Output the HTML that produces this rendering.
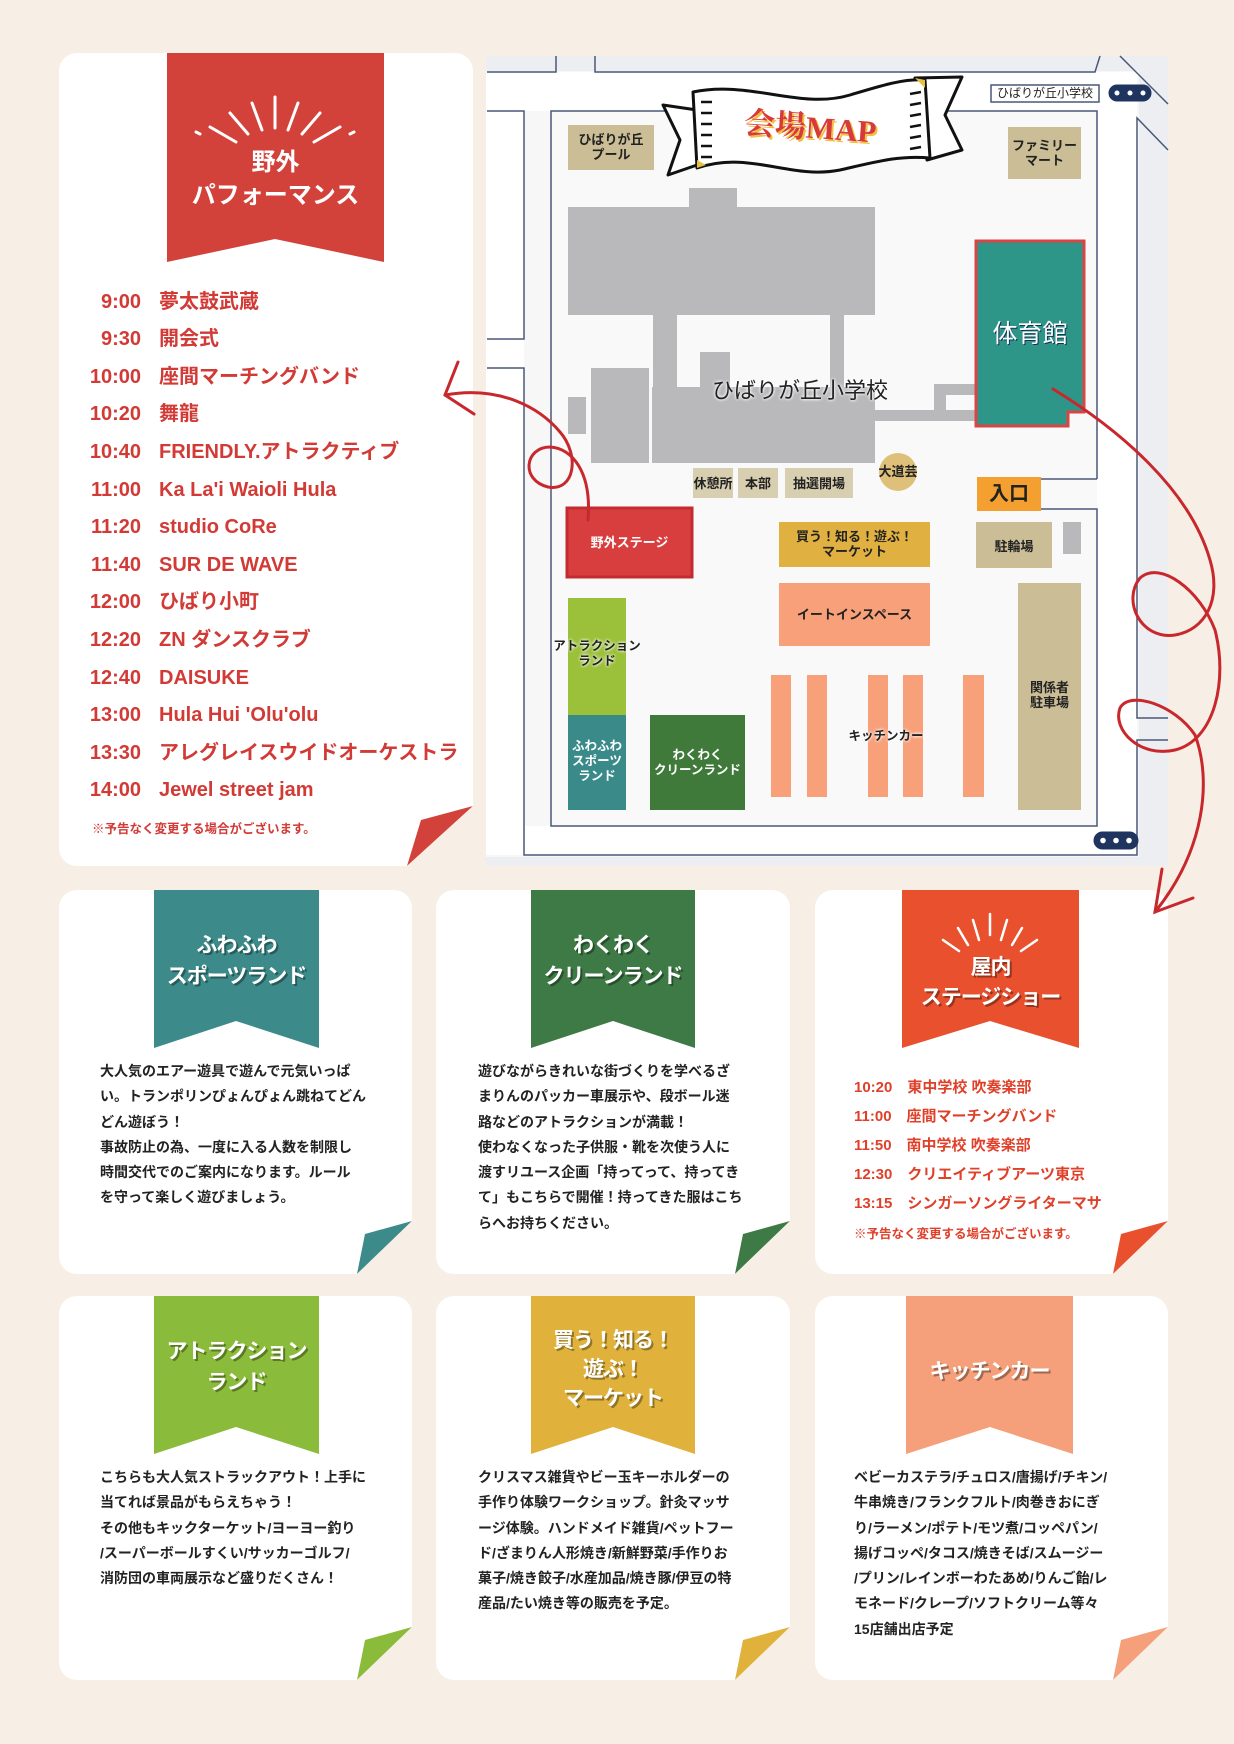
<!DOCTYPE html>
<html><head><meta charset="utf-8">
<style>
*{margin:0;padding:0;box-sizing:border-box}
body{width:1234px;height:1744px;background:#f7efe5;position:relative;overflow:hidden;font-family:"Liberation Sans","Noto Sans CJK JP",sans-serif;font-weight:bold}
.abs{position:absolute}
.card{position:absolute;background:#fff;border-radius:18px}
.row{position:absolute;color:#d23a36;font-size:20px;white-space:nowrap;line-height:24px}
.row .t{position:absolute;left:0;width:80px;text-align:right}
.txt{position:absolute;font-size:14px;line-height:25.3px;color:#222;white-space:nowrap}
.bt{position:absolute;color:#fff;text-align:center;width:100%;font-size:21px;line-height:31px;white-space:nowrap;letter-spacing:-1px;text-shadow:2px 2px 0 rgba(0,0,0,.35)}
.ml{position:absolute;font-size:13px;color:#222;text-align:center;line-height:15px;white-space:nowrap}
</style></head><body>

<div class="card" style="left:59px;top:53px;width:414px;height:813px"></div>
<svg class="abs" style="left:0;top:0" width="1234" height="1744">
 <polygon points="167,53 384,53 384,262 275,239 167,262" fill="#d2423a"/>
 <g stroke="#fff" stroke-width="3" stroke-linecap="round">
  <line x1="275" y1="97" x2="275" y2="128"/>
  <line x1="252" y1="103" x2="262" y2="130"/>
  <line x1="298" y1="103" x2="288" y2="130"/>
  <line x1="230" y1="113" x2="248" y2="134"/>
  <line x1="320" y1="113" x2="302" y2="134"/>
  <line x1="210" y1="127" x2="236" y2="142"/>
  <line x1="340" y1="127" x2="314" y2="142"/>
  <line x1="196" y1="132" x2="200" y2="134"/>
  <line x1="354" y1="132" x2="350" y2="134"/>
 </g>
 <polygon points="473,806 421,820 407,866" fill="#d2423a"/>
 <polygon points="473,806 473,866 407,866" fill="#f7efe5"/>
</svg>
<div class="abs" style="left:167px;top:146px;width:217px;text-align:center;color:#fff;font-size:24px;line-height:33px">野外<br>パフォーマンス</div>

<div class="row" style="left:61px;top:290px"><span class="t">9:00</span><span style="position:absolute;left:98px">夢太鼓武蔵</span></div>
<div class="row" style="left:61px;top:327px"><span class="t">9:30</span><span style="position:absolute;left:98px">開会式</span></div>
<div class="row" style="left:61px;top:365px"><span class="t">10:00</span><span style="position:absolute;left:98px">座間マーチングバンド</span></div>
<div class="row" style="left:61px;top:402px"><span class="t">10:20</span><span style="position:absolute;left:98px">舞龍</span></div>
<div class="row" style="left:61px;top:440px"><span class="t">10:40</span><span style="position:absolute;left:98px">FRIENDLY.アトラクティブ</span></div>
<div class="row" style="left:61px;top:478px"><span class="t">11:00</span><span style="position:absolute;left:98px">Ka La'i Waioli Hula</span></div>
<div class="row" style="left:61px;top:515px"><span class="t">11:20</span><span style="position:absolute;left:98px">studio CoRe</span></div>
<div class="row" style="left:61px;top:553px"><span class="t">11:40</span><span style="position:absolute;left:98px">SUR DE WAVE</span></div>
<div class="row" style="left:61px;top:590px"><span class="t">12:00</span><span style="position:absolute;left:98px">ひばり小町</span></div>
<div class="row" style="left:61px;top:628px"><span class="t">12:20</span><span style="position:absolute;left:98px">ZN ダンスクラブ</span></div>
<div class="row" style="left:61px;top:666px"><span class="t">12:40</span><span style="position:absolute;left:98px">DAISUKE</span></div>
<div class="row" style="left:61px;top:703px"><span class="t">13:00</span><span style="position:absolute;left:98px">Hula Hui 'Olu'olu</span></div>
<div class="row" style="left:61px;top:741px"><span class="t">13:30</span><span style="position:absolute;left:98px">アレグレイスウイドオーケストラ</span></div>
<div class="row" style="left:61px;top:778px"><span class="t">14:00</span><span style="position:absolute;left:98px">Jewel street jam</span></div>
<div class="abs" style="left:92px;top:818px;font-size:12.5px;color:#d23a36;white-space:nowrap">※予告なく変更する場合がございます。</div>

<svg class="abs" style="left:0;top:0" width="1234" height="1744">
 <rect x="486" y="56" width="682" height="810" fill="#f7f7f8"/>
 <rect x="1139" y="56" width="29" height="810" fill="#eceef2"/>
 <rect x="486" y="857" width="682" height="9" fill="#eceef2"/>
 <rect x="486" y="56" width="682" height="15" fill="#eceef2"/>
 <rect x="486" y="72" width="651" height="39" fill="#fff"/>
 <rect x="486" y="111" width="38" height="744" fill="#fff"/>
 <rect x="524" y="826" width="613" height="30" fill="#fff"/>
 <rect x="1097" y="72" width="40" height="784" fill="#fff"/>
 <rect x="551" y="111" width="546" height="715" fill="#f9f9f9"/>
 <g stroke="#4a5878" stroke-width="1.5" fill="none">
  <polyline points="487,72 556,72 556,56"/>
  <polyline points="595,56 595,72 1095,72 1100,56"/>
  <polyline points="487,111 524,111 524,339 487,339"/>
  <polyline points="487,368 524,368 524,855 1137,855 1137,740 1168,740"/>
  <polyline points="1168,718 1137,718 1137,118 1168,150"/>
  <line x1="1120" y1="56" x2="1168" y2="104"/>
  <polyline points="1097,479 1097,111 551,111 551,826 1097,826 1097,509 1041,509"/>
  <line x1="1041" y1="479" x2="1097" y2="479"/>
  <rect x="991" y="85" width="108" height="17"/>
 </g>
 <g fill="#fff" stroke="#1f3560" stroke-width="3">
  <rect x="1110" y="86" width="40" height="14" rx="7" fill="#1f3560"/>
  <circle cx="1117" cy="93" r="4"/><circle cx="1130" cy="93" r="4"/><circle cx="1143" cy="93" r="4"/>
  <rect x="1095" y="833" width="42" height="15" rx="7.5" fill="#1f3560"/>
  <circle cx="1103" cy="840.5" r="4.3"/><circle cx="1116" cy="840.5" r="4.3"/><circle cx="1129" cy="840.5" r="4.3"/>
 </g>
 <g fill="#b9b9bc">
  <rect x="568" y="207" width="307" height="108"/>
  <rect x="689" y="188" width="48" height="45"/>
  <rect x="652" y="387" width="223" height="76"/>
  <rect x="591" y="368" width="58" height="95"/>
  <rect x="653" y="315" width="24" height="72"/>
  <rect x="830" y="315" width="14" height="72"/>
  <rect x="700" y="352" width="30" height="35"/>
  <rect x="568" y="397" width="18" height="37"/>
  <rect x="875" y="410" width="101" height="11"/>
  <rect x="934" y="384" width="12" height="37"/>
  <rect x="934" y="384" width="42" height="11"/>
 </g>
 <polygon points="976,241 1084,241 1084,412 1068,412 1068,426 976,426" fill="#2e9688" stroke="#d94545" stroke-width="3"/>
 <rect x="568" y="125" width="86" height="45" fill="#cbbd95"/>
 <rect x="1008" y="127" width="73" height="52" fill="#cbbd95"/>
 <rect x="693" y="468" width="40" height="30" fill="#d8ceb0"/>
 <rect x="738" y="468" width="40" height="30" fill="#d8ceb0"/>
 <rect x="785" y="468" width="68" height="30" fill="#d8ceb0"/>
 <circle cx="898" cy="472" r="19" fill="#dfc07a"/>
 <rect x="977" y="477" width="64" height="34" fill="#f4a030"/>
 <rect x="567" y="508" width="125" height="69" fill="#d83e3e" stroke="#c22c30" stroke-width="3"/>
 <rect x="779" y="522" width="151" height="45" fill="#e0b040"/>
 <rect x="976" y="522" width="76" height="46" fill="#cbbd95"/>
 <rect x="1063" y="522" width="18" height="32" fill="#b9b9bc"/>
 <rect x="779" y="583" width="151" height="63" fill="#f8a07a"/>
 <g fill="#f8a07a">
  <rect x="771" y="675" width="20" height="122"/><rect x="807" y="675" width="20" height="122"/>
  <rect x="868" y="675" width="20" height="122"/><rect x="903" y="675" width="20" height="122"/>
  <rect x="963" y="675" width="21" height="122"/>
 </g>
 <rect x="1018" y="583" width="63" height="227" fill="#cbbd95"/>
 <rect x="568" y="598" width="58" height="117" fill="#9bc03a"/>
 <rect x="568" y="715" width="58" height="95" fill="#3a8a8a"/>
 <rect x="650" y="715" width="95" height="95" fill="#3f7a3a"/>
 <g stroke="#111" stroke-width="3" fill="#fff" stroke-linejoin="round">
  <polygon points="663,105 697,110 697,165 668,175 680,140"/>
  <polygon points="915,78 962,77 945,115 962,150 927,160"/>
  <path d="M693,92 C750,80 800,110 850,95 C880,86 905,78 925,80 L930,158 C900,155 875,162 840,170 C790,180 750,150 697,168 Z"/>
 </g>
 <polygon points="697,160 697,168 706,165" fill="#e8c040"/>
 <polygon points="915,78 925,80 925,88" fill="#e8c040"/>
 <g stroke="#111" stroke-width="2.5">
  <line x1="701" y1="102" x2="712" y2="102"/><line x1="701" y1="113" x2="712" y2="113"/><line x1="701" y1="124" x2="712" y2="124"/><line x1="701" y1="135" x2="712" y2="135"/><line x1="701" y1="146" x2="712" y2="146"/><line x1="701" y1="157" x2="712" y2="157"/>
  <line x1="910" y1="94" x2="921" y2="92"/><line x1="910" y1="105" x2="921" y2="103"/><line x1="910" y1="116" x2="921" y2="114"/><line x1="910" y1="127" x2="921" y2="125"/><line x1="910" y1="138" x2="921" y2="136"/><line x1="910" y1="149" x2="921" y2="147"/>
 </g>
 <text x="812" y="140" text-anchor="middle" font-family="Liberation Serif,Noto Serif CJK SC,serif" font-weight="bold" font-size="31" fill="#f0c040" transform="rotate(4 812 130)">会場MAP</text>
 <text x="810" y="138" text-anchor="middle" font-family="Liberation Serif,Noto Serif CJK SC,serif" font-weight="bold" font-size="31" fill="#d83a3a" transform="rotate(4 812 130)">会場MAP</text>
</svg>
<div class="ml" style="left:991px;top:86px;width:108px;font-size:12px;font-weight:normal">ひばりが丘小学校</div>
<div class="ml" style="left:568px;top:132px;width:86px">ひばりが丘<br>プール</div>
<div class="ml" style="left:1008px;top:138px;width:73px">ファミリー<br>マート</div>
<div class="ml" style="left:700px;top:378px;width:200px;font-size:22px;font-weight:normal;color:#222;line-height:26px;text-shadow:0 0 3px #fff,0 0 3px #fff">ひばりが丘小学校</div>
<div class="ml" style="left:976px;top:319px;width:108px;font-size:25px;font-weight:normal;color:#fff;line-height:30px;text-shadow:1px 1px 0 #135">体育館</div>
<div class="ml" style="left:688px;top:476px;width:50px">休憩所</div>
<div class="ml" style="left:738px;top:476px;width:40px">本部</div>
<div class="ml" style="left:785px;top:476px;width:68px">抽選開場</div>
<div class="ml" style="left:868px;top:464px;width:60px">大道芸</div>
<div class="ml" style="left:977px;top:482px;width:64px;font-size:20px;line-height:24px">入口</div>
<div class="ml" style="left:567px;top:535px;width:125px;color:#fff">野外ステージ</div>
<div class="ml" style="left:779px;top:529px;width:151px">買う！知る！遊ぶ！<br>マーケット</div>
<div class="ml" style="left:976px;top:539px;width:76px">駐輪場</div>
<div class="ml" style="left:779px;top:607px;width:151px">イートインスペース</div>
<div class="ml" style="left:846px;top:729px;width:80px;font-size:12.5px;text-shadow:0 0 3px #fff,0 0 3px #fff">キッチンカー</div>
<div class="ml" style="left:1018px;top:680px;width:63px">関係者<br>駐車場</div>
<div class="ml" style="left:548px;top:639px;width:98px;font-size:12.5px;text-shadow:0 0 3px #fff,0 0 3px #fff">アトラクション<br>ランド</div>
<div class="ml" style="left:562px;top:739px;width:70px;font-size:12.5px;color:#fff;line-height:15px">ふわふわ<br>スポーツ<br>ランド</div>
<div class="ml" style="left:646px;top:748px;width:103px;font-size:12.5px;color:#fff">わくわく<br>クリーンランド</div>

<div class="card" style="left:59px;top:890px;width:353px;height:384px"></div>
<div class="card" style="left:436px;top:890px;width:354px;height:384px"></div>
<div class="card" style="left:815px;top:890px;width:353px;height:384px"></div>
<div class="card" style="left:59px;top:1296px;width:353px;height:384px"></div>
<div class="card" style="left:436px;top:1296px;width:354px;height:384px"></div>
<div class="card" style="left:815px;top:1296px;width:353px;height:384px"></div>

<svg class="abs" style="left:0;top:0" width="1234" height="1744">
 <polygon points="154,890 319,890 319,1048 236,1021 154,1048" fill="#3d8a8a"/>
 <polygon points="531,890 695,890 695,1048 613,1021 531,1048" fill="#3e7a45"/>
 <polygon points="902,890 1079,890 1079,1048 990,1021 902,1048" fill="#e8502e"/>
 <polygon points="154,1296 319,1296 319,1454 236,1427 154,1454" fill="#8bbb3a"/>
 <polygon points="531,1296 695,1296 695,1454 613,1427 531,1454" fill="#e0b23c"/>
 <polygon points="906,1296 1073,1296 1073,1454 990,1427 906,1454" fill="#f5a07a"/>
 <g stroke="#fff" stroke-width="2.5" stroke-linecap="round">
  <line x1="990" y1="914" x2="990" y2="935"/>
  <line x1="973" y1="920" x2="979" y2="940"/><line x1="1007" y1="920" x2="1001" y2="940"/>
  <line x1="958" y1="928" x2="968" y2="945"/><line x1="1022" y1="928" x2="1012" y2="945"/>
  <line x1="943" y1="940" x2="959" y2="951"/><line x1="1037" y1="940" x2="1021" y2="951"/>
 </g>
 <g>
  <polygon points="412,1221 365,1234 357,1274" fill="#3d8a8a"/><polygon points="412,1221 412,1274 357,1274" fill="#f7efe5"/>
  <polygon points="790,1221 743,1234 735,1274" fill="#3e7a45"/><polygon points="790,1221 790,1274 735,1274" fill="#f7efe5"/>
  <polygon points="1168,1221 1121,1234 1113,1274" fill="#e8502e"/><polygon points="1168,1221 1168,1274 1113,1274" fill="#f7efe5"/>
  <polygon points="412,1627 365,1640 357,1680" fill="#8bbb3a"/><polygon points="412,1627 412,1680 357,1680" fill="#f7efe5"/>
  <polygon points="790,1627 743,1640 735,1680" fill="#e0b23c"/><polygon points="790,1627 790,1680 735,1680" fill="#f7efe5"/>
  <polygon points="1168,1627 1121,1640 1113,1680" fill="#f5a07a"/><polygon points="1168,1627 1168,1680 1113,1680" fill="#f7efe5"/>
 </g>
 <g stroke="#c8282c" stroke-width="3" fill="none" stroke-linecap="round">
  <path d="M588,520 C592,472 572,448 550,447 C525,447 520,480 548,487 C575,492 580,455 560,432 C540,408 500,385 445,395"/>
  <polyline points="458,362 445,395 474,414"/>
  <path d="M1053,389 C1120,430 1190,490 1210,560 C1222,600 1205,630 1175,635 C1140,640 1122,600 1140,578 C1160,560 1200,590 1215,630 C1228,680 1215,740 1175,750 C1140,758 1112,730 1120,708 C1130,690 1175,705 1195,735 C1212,780 1205,850 1155,912"/>
  <polyline points="1162,869 1155,912 1193,898"/>
 </g>
</svg>

<div class="bt" style="left:154px;top:930px;width:165px">ふわふわ<br>スポーツランド</div>
<div class="bt" style="left:531px;top:930px;width:164px">わくわく<br>クリーンランド</div>
<div class="bt" style="left:902px;top:953px;width:177px;font-size:21px;line-height:30px">屋内<br>ステージショー</div>
<div class="bt" style="left:154px;top:1336px;width:165px">アトラクション<br>ランド</div>
<div class="bt" style="left:531px;top:1326px;width:164px;line-height:29px">買う！知る！<br>遊ぶ！<br>マーケット</div>
<div class="bt" style="left:906px;top:1356px;width:167px">キッチンカー</div>

<div class="txt" style="left:100px;top:1059px">大人気のエアー遊具で遊んで元気いっぱ<br>い。トランポリンぴょんぴょん跳ねてどん<br>どん遊ぼう！<br>事故防止の為、一度に入る人数を制限し<br>時間交代でのご案内になります。ルール<br>を守って楽しく遊びましょう。</div>
<div class="txt" style="left:478px;top:1059px">遊びながらきれいな街づくりを学べるざ<br>まりんのパッカー車展示や、段ボール迷<br>路などのアトラクションが満載！<br>使わなくなった子供服・靴を次使う人に<br>渡すリユース企画「持ってって、持ってき<br>て」もこちらで開催！持ってきた服はこち<br>らへお持ちください。</div>
<div class="txt" style="left:854px;top:1073px;font-size:15px;line-height:29px;color:#e0402a">10:20　東中学校 吹奏楽部<br>11:00　座間マーチングバンド<br>11:50　南中学校 吹奏楽部<br>12:30　クリエイティブアーツ東京<br>13:15　シンガーソングライターマサ</div>
<div class="txt" style="left:854px;top:1226px;font-size:12.5px;line-height:16px;color:#e0402a">※予告なく変更する場合がございます。</div>
<div class="txt" style="left:100px;top:1465px">こちらも大人気ストラックアウト！上手に<br>当てれば景品がもらえちゃう！<br>その他もキックターケット/ヨーヨー釣り<br>/スーパーボールすくい/サッカーゴルフ/<br>消防団の車両展示など盛りだくさん！</div>
<div class="txt" style="left:478px;top:1465px">クリスマス雑貨やビー玉キーホルダーの<br>手作り体験ワークショップ。針灸マッサ<br>ージ体験。ハンドメイド雑貨/ペットフー<br>ド/ざまりん人形焼き/新鮮野菜/手作りお<br>菓子/焼き餃子/水産加品/焼き豚/伊豆の特<br>産品/たい焼き等の販売を予定。</div>
<div class="txt" style="left:854px;top:1465px">ベビーカステラ/チュロス/唐揚げ/チキン/<br>牛串焼き/フランクフルト/肉巻きおにぎ<br>り/ラーメン/ポテト/モツ煮/コッペパン/<br>揚げコッペ/タコス/焼きそば/スムージー<br>/プリン/レインボーわたあめ/りんご飴/レ<br>モネード/クレープ/ソフトクリーム等々<br>15店舗出店予定</div>
</body></html>
